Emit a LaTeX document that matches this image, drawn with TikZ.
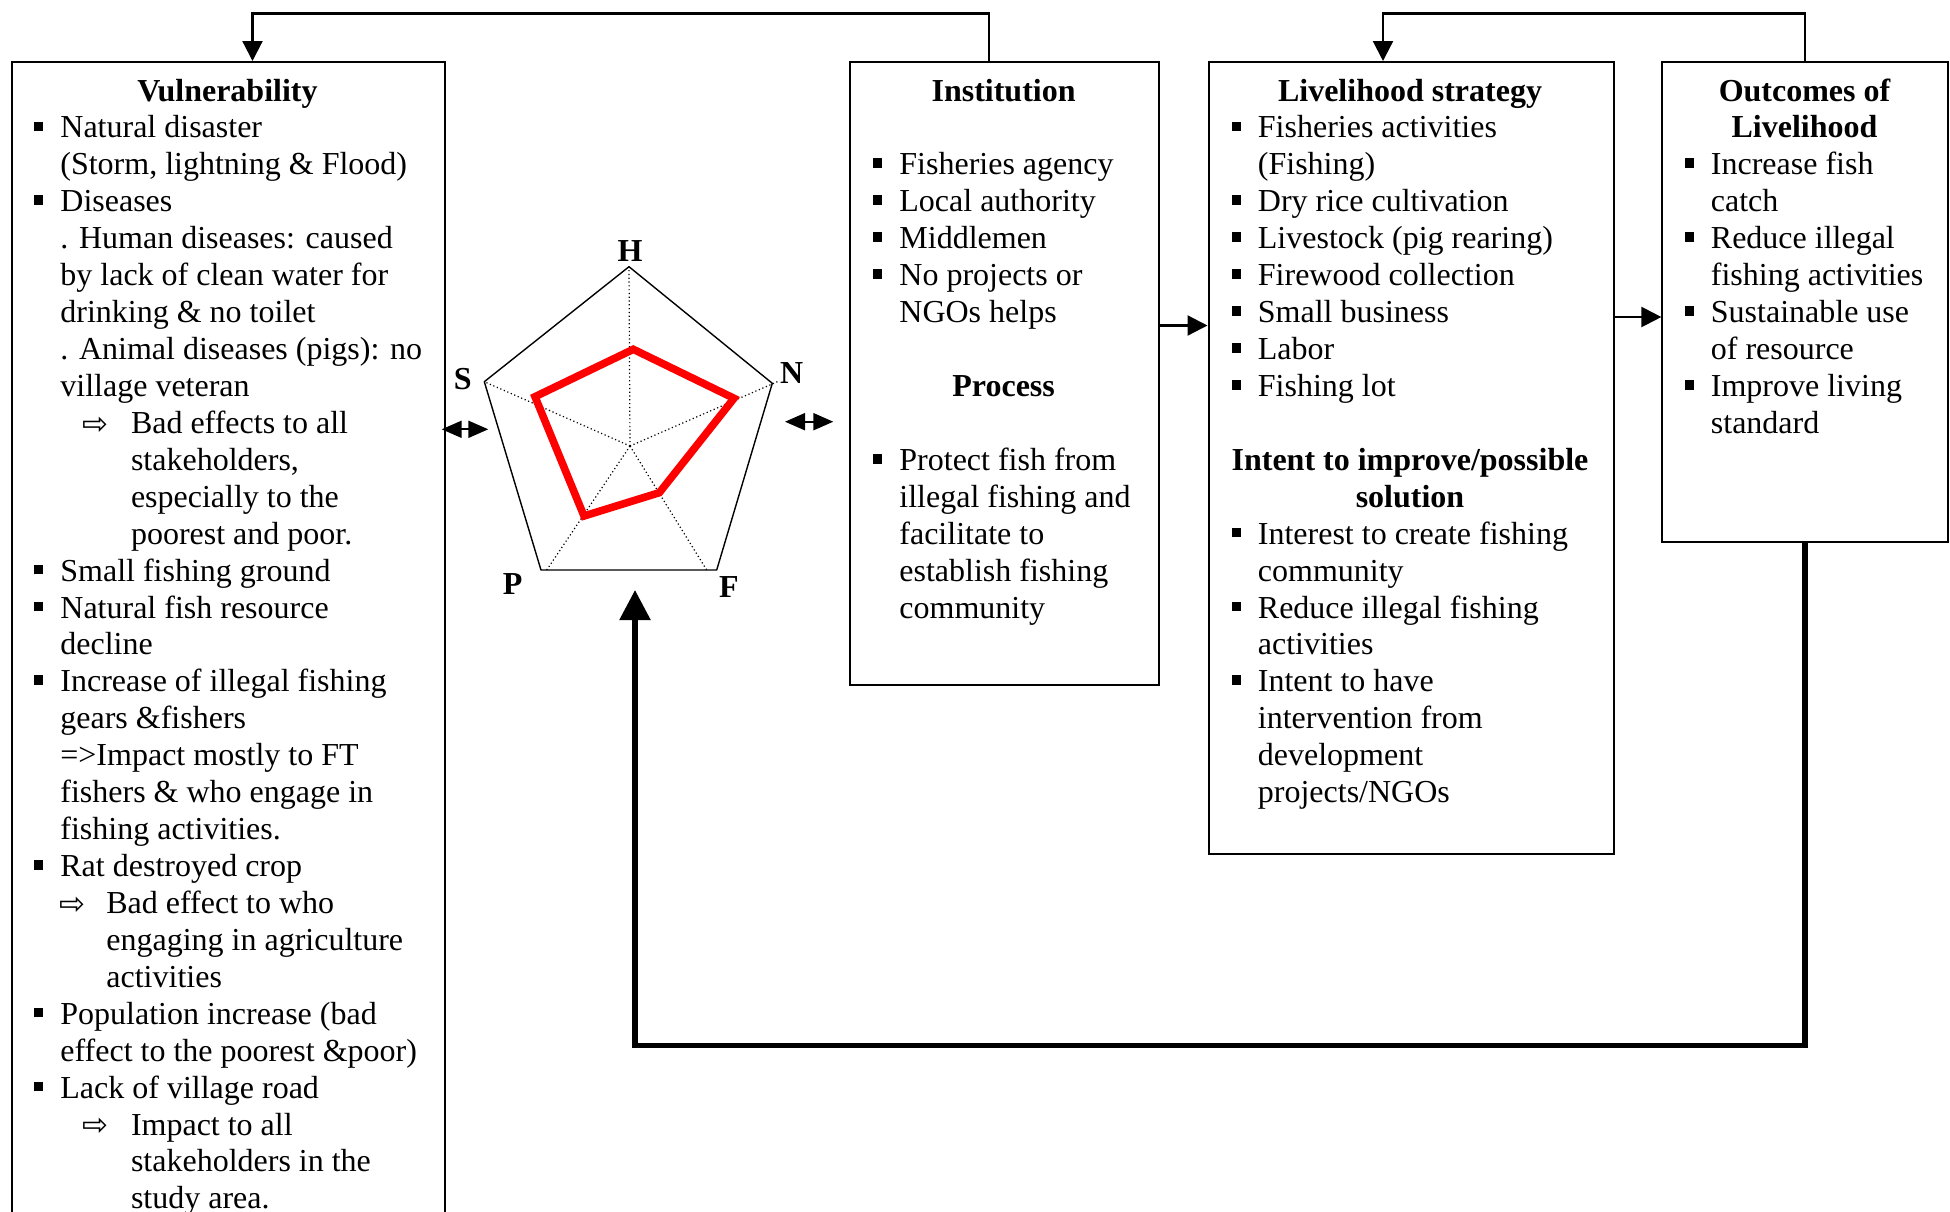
\documentclass[tikz,border=0pt]{standalone}
\usepackage{fontspec}
\setmainfont{Liberation Serif}
\newfontfamily\dvs{DejaVu Sans}
\usetikzlibrary{arrows.meta}
\newcommand\bsq{\makebox[13pt][l]{\rule[3.4pt]{4.4pt}{4.8pt}}}
\newcommand\wa{\raisebox{-0.4pt}{\dvs\fontsize{15.5}{15.5}\selectfont ⇨}}
\newcommand\cont{\hspace*{13pt}}
\newcommand\contB{\hspace*{48.3pt}}
\newcommand\contC{\hspace*{36pt}}
\newcommand\subA{\hspace*{24.2pt}\makebox[24.1pt][l]{\wa}}
\newcommand\subB{\hspace*{12.5pt}\makebox[23.5pt][l]{\wa}}
\begin{document}
\begin{tikzpicture}[x=0.5pt,y=-0.5pt,
  box/.style={draw, line width=1pt, inner sep=0pt, anchor=north west},
  txt/.style={anchor=base west, inner sep=0pt, font=\fontsize{16}{18.465}\selectfont},
  ttl/.style={anchor=base, inner sep=0pt, font=\fontsize{16}{18.465}\selectfont\bfseries},
  lbl/.style={inner sep=0pt, font=\fontsize{16}{18.4}\selectfont\bfseries},
  conn/.style={line width=1.1pt, -{Triangle[length=10pt,width=10pt]}},
  dbl/.style={line width=1pt, {Triangle[length=10pt,width=8.5pt]}-{Triangle[length=10pt,width=8.5pt]}},
  thickarrow/.style={line width=2.7pt, -{Triangle[length=15pt,width=15pt]}},
  pent/.style={line width=0.7pt, line join=round},
  spoke/.style={line width=0.6pt, dash pattern=on 0.6pt off 1.3pt},
  redpoly/.style={draw=red, line width=3.8pt, line join=miter}]
\clip (0,0) rectangle (1950,1211);
\fill[white] (0,0) rectangle (1950,1211);

% boxes
\node[box, minimum width=216.5pt, minimum height=590pt] (vul) at (11,61) {};
\node[box, minimum width=154.2pt, minimum height=311.5pt] (inst) at (849.4,61) {};
\node[box, minimum width=202.75pt, minimum height=396pt] (liv) at (1207.5,61) {};
\node[box, minimum width=143pt, minimum height=240pt] (out) at (1661.4,61) {};

% Vulnerability
\node[ttl] (vulT) at (227.5,101) {Vulnerability};
\node[txt] (vulL) at (34,137.93) {\begin{tabular}[t]{@{}l@{}}
\bsq Natural disaster\\
\cont (Storm, lightning \& Flood)\\
\bsq Diseases\\
\cont . Human diseases: caused\\
\cont by lack of clean water for\\
\cont drinking \& no toilet\\
\cont . Animal diseases (pigs): no\\
\cont village veteran\\
\subA Bad effects to all\\
\contB stakeholders,\\
\contB especially to the\\
\contB poorest and poor.\\
\bsq Small fishing ground\\
\bsq Natural fish resource\\
\cont decline\\
\bsq Increase of illegal fishing\\
\cont gears \&fishers\\
\cont =>Impact mostly to FT\\
\cont fishers \& who engage in\\
\cont fishing activities.\\
\bsq Rat destroyed crop\\
\subB Bad effect to who\\
\contC engaging in agriculture\\
\contC activities\\
\bsq Population increase (bad\\
\cont effect to the poorest \&poor)\\
\bsq Lack of village road\\
\subA Impact to all\\
\contB stakeholders in the\\
\contB study area.
\end{tabular}};

% Institution
\node[ttl] (instT) at (1003.6,101) {Institution};
\node[txt] (instL) at (873,174.86) {\begin{tabular}[t]{@{}l@{}}
\bsq Fisheries agency\\
\bsq Local authority\\
\bsq Middlemen\\
\bsq No projects or\\
\cont NGOs helps
\end{tabular}};
\node[ttl] (procT) at (1003.6,396.44) {Process};
\node[txt] (procL) at (873,470.3) {\begin{tabular}[t]{@{}l@{}}
\bsq Protect fish from\\
\cont illegal fishing and\\
\cont facilitate to\\
\cont establish fishing\\
\cont community
\end{tabular}};

% Livelihood strategy
\node[ttl] (livT) at (1410,101) {Livelihood strategy};
\node[txt] (livL) at (1231.5,137.93) {\begin{tabular}[t]{@{}l@{}}
\bsq Fisheries activities\\
\cont (Fishing)\\
\bsq Dry rice cultivation\\
\bsq Livestock (pig rearing)\\
\bsq Firewood collection\\
\bsq Small business\\
\bsq Labor\\
\bsq Fishing lot
\end{tabular}};
\node[ttl] (intT1) at (1410,470.3) {Intent to improve/possible};
\node[ttl] (intT2) at (1410,507.23) {solution};
\node[txt] (intL) at (1231.5,544.16) {\begin{tabular}[t]{@{}l@{}}
\bsq Interest to create fishing\\
\cont community\\
\bsq Reduce illegal fishing\\
\cont activities\\
\bsq Intent to have\\
\cont intervention from\\
\cont development\\
\cont projects/NGOs
\end{tabular}};

% Outcomes
\node[ttl] (outT1) at (1804.5,101) {Outcomes of};
\node[ttl] (outT2) at (1804.5,137.93) {Livelihood};
\node[txt] (outL) at (1684.5,174.86) {\begin{tabular}[t]{@{}l@{}}
\bsq Increase fish\\
\cont catch\\
\bsq Reduce illegal\\
\cont fishing activities\\
\bsq Sustainable use\\
\cont of resource\\
\bsq Improve living\\
\cont standard
\end{tabular}};

% radar pentagon
\coordinate (pH) at (629,266.7);
\coordinate (pN) at (772.3,383.3);
\coordinate (pF) at (716.7,570);
\coordinate (pP) at (541,570);
\coordinate (pS) at (484.3,381.7);
\coordinate (pO) at (630,446);
\draw[spoke] (pO) -- (pH);
\draw[spoke] (pO) -- (779,381);
\draw[spoke] (pO) -- (pS);
\draw[spoke] (pO) -- (546.7,570);
\draw[spoke] (pO) -- (706.7,570);
\draw[pent] (pH) -- (pN) -- (pF) -- (pP) -- (pS) -- cycle;
\draw[redpoly] (633.3,349.3) -- (734,398.3) -- (659.3,492.7) -- (584,516) -- (535,396.7) -- cycle;
\node[lbl] (lH) at (630,250.7) {H};
\node[lbl] (lN) at (791.7,373.3) {N};
\node[lbl] (lS) at (462.7,379) {S};
\node[lbl] (lP) at (512.7,584) {P};
\node[lbl] (lF) at (729,586.7) {F};

% double arrows
\coordinate (dL1) at (441.7,429.3);
\coordinate (dL2) at (488.3,429.3);
\coordinate (dR1) at (785,421.7);
\coordinate (dR2) at (833.3,421.7);
\draw[dbl] (dL1) -- (dL2);
\draw[dbl] (dR1) -- (dR2);

% top connectors
\coordinate (c1) at (988.7,13.5);
\coordinate (c2) at (252.5,13.5);
\coordinate (c3) at (1805,13.5);
\coordinate (c4) at (1383,13.5);
\draw[conn, line join=miter] (c1 |- inst.north) -- (c1) -- (c2) -- (c2 |- vul.north);
\draw[conn, line join=miter] (c3 |- out.north) -- (c3) -- (c4) -- (c4 |- liv.north);

% box to box arrows
\coordinate (a1) at (0,325.5);
\coordinate (a2) at (0,317);
\draw[conn] (inst.east |- a1) -- (liv.west |- a1);
\draw[conn] (liv.east |- a2) -- (out.west |- a2);

% thick feedback
\coordinate (b1) at (1805,1045.5);
\coordinate (b2) at (635,1045.5);
\coordinate (radar) at (635,590);
\draw[thickarrow] (out.south -| b1) -- (b1) -- (b2) -- (radar);
\end{tikzpicture}
\end{document}
